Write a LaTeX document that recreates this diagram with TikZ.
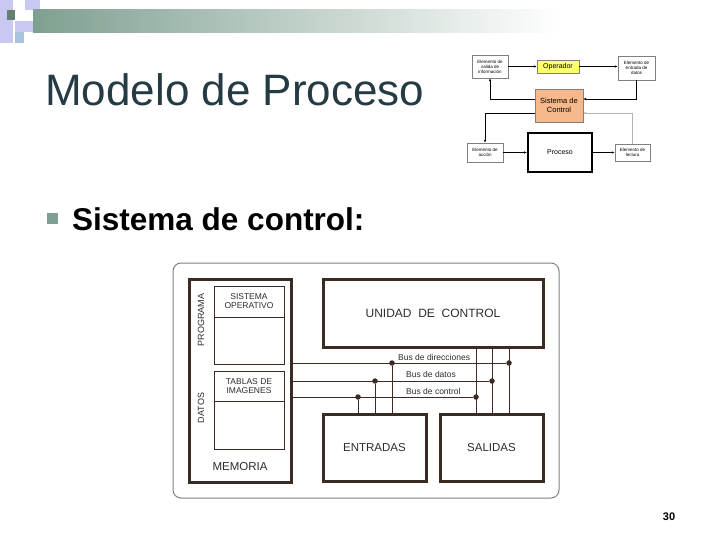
\documentclass[tikz,border=0pt]{standalone}
\usepackage{fontspec}
\setmainfont{Liberation Sans}
\usetikzlibrary{arrows.meta}
\definecolor{marron}{HTML}{3B2B25}
\definecolor{textoGris}{HTML}{2C2C2C}
\definecolor{verdeGris}{HTML}{7FA090}
\definecolor{lavanda}{HTML}{C8C8F0}
\definecolor{celeste}{HTML}{A8C4DC}
\definecolor{titulo}{HTML}{243B44}
\definecolor{amarillo}{HTML}{FFFF70}
\definecolor{naranja}{HTML}{F7B98B}
\tikzstyle{caja}=[shape = rectangle, draw = marron, line width = 3pt, inner sep = 0pt, text = textoGris, font = \fontsize{11.5}{13}\selectfont]
\tikzstyle{celda}=[shape = rectangle, draw = marron, line width = 0.8pt, inner sep = 0pt, align = center, text = textoGris, font = \fontsize{8.5}{9}\selectfont]
\tikzstyle{rotulo}=[inner sep = 0pt, text = textoGris, font = \fontsize{8.5}{9}\selectfont]
\tikzstyle{bus}=[draw = marron, line width = 0.6pt]
\tikzstyle{punto}=[shape = circle, fill = marron, minimum size = 5.5pt, inner sep = 0pt]
\tikzstyle{mini}=[shape = rectangle, draw = gray, line width = 0.4pt, inner sep = 0pt, align = center, font = \fontsize{4.5}{5}\selectfont]
\tikzstyle{flecha}=[-{Latex[length=3pt,width=2.5pt]}, line width = 0.8pt]

\begin{document}
\begin{tikzpicture}[x = 1pt, y = -1pt]
\useasboundingbox (0,0) rectangle (720,540);
\fill[lavanda] (0,0) rectangle (13,43);
\fill[lavanda] (25,0) rectangle (40,10);
\shade[left color = verdeGris, right color = white] (33,10) rectangle (560,33);
\fill[verdeGris!80!black] (7,10) rectangle (15,20);
\fill[lavanda] (15,21) rectangle (33,32);
\fill[celeste] (15,32) rectangle (24,43);
\node[anchor = base west, inner sep = 0pt, text = titulo, font = \fontsize{44}{48}\selectfont] (tit) at (45,106) {Modelo de Proceso};
\node[fill = verdeGris, minimum size = 11pt, inner sep = 0pt] (vin) at (52.5,218.5) {};
\node[anchor = base west, inner sep = 0pt, font = \bfseries\fontsize{31.5}{33}\selectfont] (sub) at (72,230) {Sistema de control:};
\node[anchor = base, inner sep = 0pt, font = \bfseries\fontsize{11}{12}\selectfont] (pag) at (669,520) {30};

\node[mini, minimum width = 36pt, minimum height = 23pt] (sal) at (490,66.5) {Elemento de\\salida de\\información};
\node[mini, fill = amarillo, minimum width = 42pt, minimum height = 13pt, font = \fontsize{7}{8}\selectfont] (ope) at (558,66.5) {Operador};
\node[mini, minimum width = 37pt, minimum height = 24pt] (ent) at (636.5,68) {Elemento de\\entrada de\\datos};
\node[mini, fill = naranja, minimum width = 48pt, minimum height = 33pt, font = \fontsize{7.5}{9}\selectfont] (sis) at (559,105.5) {Sistema de\\Control};
\node[mini, minimum width = 36pt, minimum height = 19pt] (acc) at (485,152.5) {Elemento de\\acción};
\node[mini, draw = black, line width = 2pt, minimum width = 64pt, minimum height = 39pt, font = \fontsize{7}{8}\selectfont] (pro) at (560,152.5) {Proceso};
\node[mini, minimum width = 35pt, minimum height = 17pt] (lec) at (632.5,152.5) {Elemento de\\lectura};
\draw[flecha] (sal.east) -- (ope.west);
\draw[flecha, line width = 1.5pt] (ope.east) -- (ope.east -| ent.west);
\draw[flecha] (ent.south) |- ([yshift = 6.5pt]sis.east);
\draw[flecha] ([yshift = 6.5pt]sis.west) -| (sal.south);
\draw[flecha] ([yshift = -7.5pt]sis.west) -| (acc.north);
\draw[flecha, line width = 1.2pt] (acc.east) -- (pro.west);
\draw[flecha, line width = 1.5pt] (pro.east) -- (lec.west);
\draw[flecha, gray!60] (lec.north) |- ([yshift = -7.5pt]sis.east);

\draw[gray, line width = 1pt, rounded corners = 8pt] (173,263) rectangle (559,498);
\node[caja, minimum width = 102pt, minimum height = 203pt] (mem) at (240,380.5) {};
\node[celda, minimum width = 70pt, minimum height = 31pt] (so) at (249,301.5) {SISTEMA\\OPERATIVO};
\node[celda, minimum width = 70pt, minimum height = 47pt] (sob) at (249,340.5) {};
\node[celda, minimum width = 70pt, minimum height = 30pt] (ti) at (249,386) {TABLAS DE\\IMAGENES};
\node[celda, minimum width = 70pt, minimum height = 48pt] (tib) at (249,425) {};
\node[rotulo, rotate = 90, font = \fontsize{9}{10}\selectfont] (prg) at (201,320) {PROGRAMA};
\node[rotulo, rotate = 90, font = \fontsize{9}{10}\selectfont] (dat) at (201,408) {DATOS};
\node[rotulo, font = \fontsize{11.5}{13}\selectfont] (memt) at (240,467) {MEMORIA};
\node[caja, minimum width = 220pt, minimum height = 68pt, font = \fontsize{12}{14}\selectfont] (uc) at (433,313) {UNIDAD\ \ DE\ \ CONTROL};
\node[caja, minimum width = 103pt, minimum height = 67pt] (entr) at (374.5,447.5) {ENTRADAS};
\node[caja, minimum width = 103pt, minimum height = 67pt] (sali) at (491.5,447.5) {SALIDAS};

\node[punto] (pe1) at (392,363) {};
\node[punto] (pe2) at (375,381) {};
\node[punto] (pe3) at (358,397) {};
\node[punto] (ps1) at (509,363) {};
\node[punto] (ps2) at (492,381) {};
\node[punto] (ps3) at (476,397) {};
\draw[bus] (mem.east |- ps1) -- (ps1);
\draw[bus] (mem.east |- ps2) -- (ps2);
\draw[bus] (mem.east |- ps3) -- (ps3);
\draw[bus] (pe1) -- (pe1 |- entr.north);
\draw[bus] (pe2) -- (pe2 |- entr.north);
\draw[bus] (pe3) -- (pe3 |- entr.north);
\draw[bus] (uc.south -| ps1) -- (sali.north -| ps1);
\draw[bus] (uc.south -| ps2) -- (sali.north -| ps2);
\draw[bus] (uc.south -| ps3) -- (sali.north -| ps3);
\node[rotulo, anchor = west] (bdir) at (398,357) {Bus de direcciones};
\node[rotulo, anchor = west] (bdat) at (406,374.5) {Bus de datos};
\node[rotulo, anchor = west] (bctl) at (406,391.5) {Bus de control};
\end{tikzpicture}
\end{document}
